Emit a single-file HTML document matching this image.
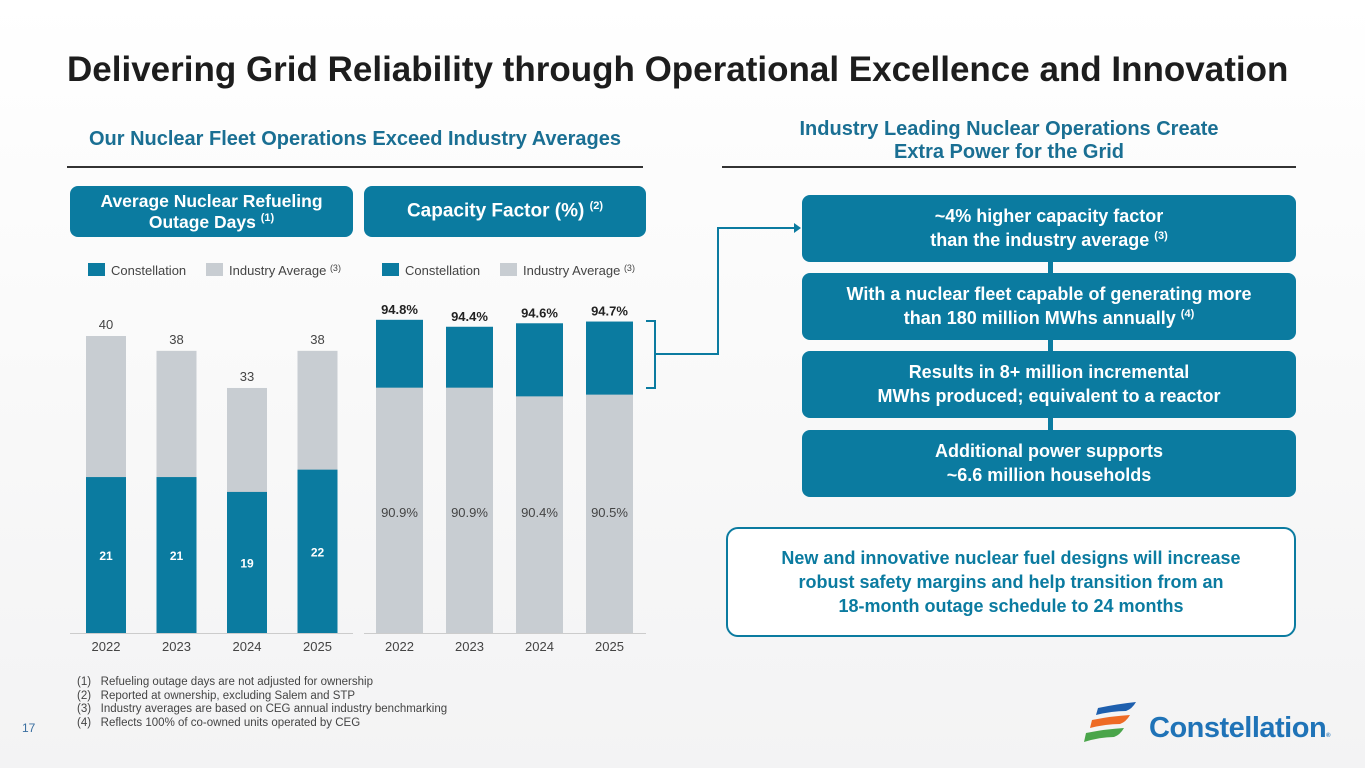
<!DOCTYPE html>
<html><head><meta charset="utf-8"><style>
body{margin:0;width:1365px;height:768px;overflow:hidden;background:linear-gradient(180deg,#fff 0%,#f9f9f9 50%,#f3f3f4 100%);font-family:"Liberation Sans",sans-serif;position:relative}
.a{position:absolute}
.title{left:67px;top:50px;font-size:35px;font-weight:bold;color:#1d1d1d;letter-spacing:0px;white-space:nowrap}
.sub{color:#1a6f93;font-weight:bold;font-size:20px;text-align:center;white-space:nowrap}
.pill{background:#0b7ba0;color:#fff;font-weight:bold;border-radius:8px;display:flex;align-items:center;justify-content:center;text-align:center;line-height:1.2}
.box{background:#0b7ba0;color:#fff;font-weight:bold;font-size:18px;border-radius:8px;display:flex;align-items:center;justify-content:center;text-align:center;line-height:1.3;left:802px;width:494px;height:67px}
sup{font-size:11px}
.fn{left:77px;top:676px;font-size:11.5px;color:#444;line-height:13.5px}
</style></head><body>
<div class="a title">Delivering Grid Reliability through Operational Excellence and Innovation</div>
<div class="a sub" style="left:67px;top:128px;width:576px">Our Nuclear Fleet Operations Exceed Industry Averages</div>
<div class="a" style="left:67px;top:166px;width:576px;height:1.5px;background:#333"></div>
<div class="a sub" style="left:722px;top:118px;width:574px;line-height:23px">Industry Leading Nuclear Operations Create<br>Extra Power for the Grid</div>
<div class="a" style="left:722px;top:166px;width:574px;height:1.5px;background:#333"></div>
<div class="a pill" style="left:70px;top:186px;width:283px;height:51px;font-size:17.5px"><div>Average Nuclear Refueling<br>Outage Days <sup>(1)</sup></div></div>
<div class="a pill" style="left:364px;top:186px;width:282px;height:51px;font-size:19px"><div>Capacity Factor (%) <sup>(2)</sup></div></div>

<svg class="a" style="left:0;top:0" width="1365" height="768" id="chart"></svg>

<div class="a box" style="top:195px"><div>~4% higher capacity factor<br>than the industry average <sup>(3)</sup></div></div>
<div class="a box" style="top:273px"><div>With a nuclear fleet capable of generating more<br>than 180 million MWhs annually <sup>(4)</sup></div></div>
<div class="a box" style="top:351px"><div>Results in 8+ million incremental<br>MWhs produced; equivalent to a reactor</div></div>
<div class="a box" style="top:430px"><div>Additional power supports<br>~6.6 million households</div></div>
<div class="a" style="left:1048px;top:262px;width:5px;height:11px;background:#0b7ba0"></div>
<div class="a" style="left:1048px;top:340px;width:5px;height:11px;background:#0b7ba0"></div>
<div class="a" style="left:1048px;top:418px;width:5px;height:12px;background:#0b7ba0"></div>
<div class="a" style="left:726px;top:527px;width:566px;height:106px;border:2px solid #0b7ba0;border-radius:12px;display:flex;align-items:center;justify-content:center;text-align:center;color:#0b7ba0;font-weight:bold;font-size:18px;line-height:1.35;background:#fff"><div>New and innovative nuclear fuel designs will increase<br>robust safety margins and help transition from an<br>18-month outage schedule to 24 months</div></div>

<div class="a fn">(1)&nbsp;&nbsp;&nbsp;Refueling outage days are not adjusted for ownership<br>(2)&nbsp;&nbsp;&nbsp;Reported at ownership, excluding Salem and STP<br>(3)&nbsp;&nbsp;&nbsp;Industry averages are based on CEG annual industry benchmarking<br>(4)&nbsp;&nbsp;&nbsp;Reflects 100% of co-owned units operated by CEG</div>
<div class="a" style="left:22px;top:721px;font-size:12px;color:#3a6fa0">17</div>
<div class="a" style="left:1082px;top:700px;width:280px;height:50px">
<svg width="60" height="45" style="position:absolute;left:0;top:0"><path d="M16 8 Q35 4 54 2 Q50 9 44 11 Q30 11 14 15Z" fill="#1e5fae"/><path d="M10 20 Q30 16 48 15 Q44 22 38 24 Q24 24 8 28Z" fill="#ee6b25"/><path d="M4 33 Q24 29 42 28 Q38 35 32 37 Q18 37 2 42Z" fill="#4aa54a"/></svg>
<div style="position:absolute;left:67px;top:12px;font-size:29px;font-weight:bold;color:#1f73b7;letter-spacing:-0.5px">Constellation<span style="font-size:6px">®</span></div></div>

<script>
const years=["2022","2023","2024","2025"];
const outageInd=[40,38,33,38];
const outageCeg=[21,21,19,22];
const cfInd=[90.9,90.9,90.4,90.5];
const cfCeg=[94.8,94.4,94.6,94.7];
const NS="http://www.w3.org/2000/svg";
const svg=document.getElementById('chart');
const teal="#0b7ba0",gray="#c8cdd2";
function el(t,a,txt){const e=document.createElementNS(NS,t);for(const k in a)e.setAttribute(k,a[k]);if(txt!==undefined)e.textContent=txt;svg.appendChild(e);return e;}
const base=633;
const yL=v=>base-v*7.425;
const xL=i=>106+i*70.5;
const yR=v=>base-(v-76.8)*17.4;
const xR=i=>399.5+i*70;
el('line',{x1:70,x2:353,y1:633.5,y2:633.5,stroke:'#ccc'});
el('line',{x1:364,x2:646,y1:633.5,y2:633.5,stroke:'#ccc'});
function legend(x0,nm){
 let r=el('rect',{x:x0,y:263,width:17,height:13,fill:teal});
 
 el('text',{x:x0+23,y:275,'font-size':13,fill:'#444'},'Constellation');
 r=el('rect',{x:x0+118,y:263,width:17,height:13,fill:gray});
 
 const t=el('text',{x:x0+141,y:275,'font-size':13,fill:'#444'},'Industry Average ');
 const s=document.createElementNS(NS,'tspan');s.setAttribute('font-size','9');s.setAttribute('dy','-4');s.textContent='(3)';t.appendChild(s);
}
legend(88,'outage');legend(382,'capacity');
years.forEach((y,i)=>{
 const cx=xL(i),w=40;
 let r=el('rect',{x:cx-w/2,y:yL(outageInd[i]),width:w,height:base-yL(outageInd[i]),fill:gray});
 
 r=el('rect',{x:cx-w/2,y:yL(outageCeg[i]),width:w,height:base-yL(outageCeg[i]),fill:teal});
 
 el('text',{x:cx,y:yL(outageInd[i])-7,'text-anchor':'middle','font-size':13,fill:'#444'},outageInd[i]);
 el('text',{x:cx,y:(yL(outageCeg[i])+base)/2+5,'text-anchor':'middle','font-size':12,'font-weight':'bold',fill:'#fff'},outageCeg[i]);
 el('text',{x:cx,y:651,'text-anchor':'middle','font-size':13,fill:'#444'},y);
 const rx=xR(i),rw=47;
 r=el('rect',{x:rx-rw/2,y:yR(cfCeg[i]),width:rw,height:base-yR(cfCeg[i]),fill:teal});
 
 r=el('rect',{x:rx-rw/2,y:yR(cfInd[i]),width:rw,height:base-yR(cfInd[i]),fill:gray});
 
 el('text',{x:rx,y:yR(cfCeg[i])-6,'text-anchor':'middle','font-size':13,'font-weight':'bold',fill:'#222'},cfCeg[i].toFixed(1)+'%');
 el('text',{x:rx,y:517,'text-anchor':'middle','font-size':13,fill:'#444'},cfInd[i].toFixed(1)+'%');
 el('text',{x:rx,y:651,'text-anchor':'middle','font-size':13,fill:'#444'},y);
});
el('path',{d:'M646 321 H655 V388 H646',fill:'none',stroke:teal,'stroke-width':2});
el('path',{d:'M655 354 H718 V228 H794',fill:'none',stroke:teal,'stroke-width':2});
el('path',{d:'M794 223 L801 228 L794 233Z',fill:teal});
</script>
</body></html>
